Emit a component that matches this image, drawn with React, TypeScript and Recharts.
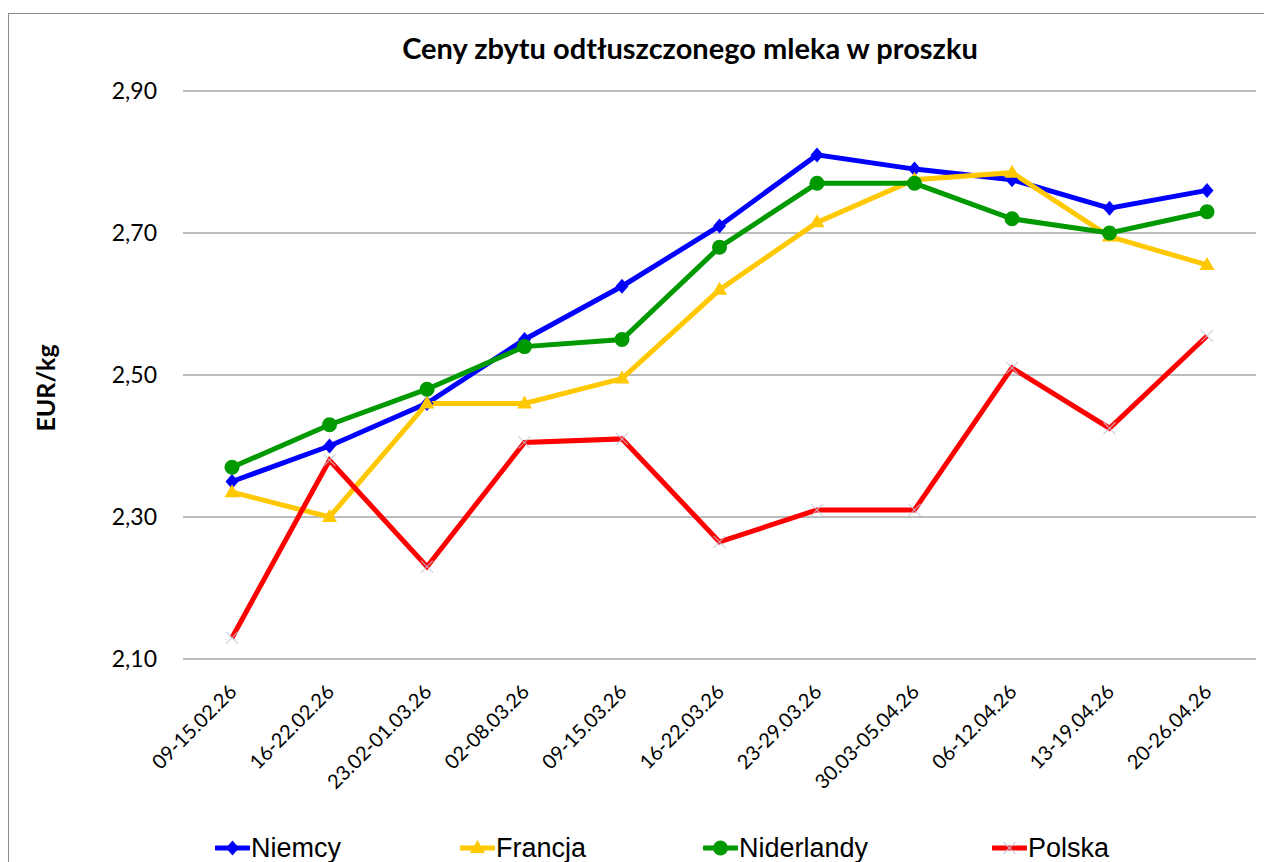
import { LineChart, Line, XAxis, YAxis, CartesianGrid } from 'recharts';

const WEEKS = [
  '09-15.02.26',
  '16-22.02.26',
  '23.02-01.03.26',
  '02-08.03.26',
  '09-15.03.26',
  '16-22.03.26',
  '23-29.03.26',
  '30.03-05.04.26',
  '06-12.04.26',
  '13-19.04.26',
  '20-26.04.26',
];

const NIEMCY = [2.35, 2.4, 2.46, 2.55, 2.625, 2.71, 2.81, 2.79, 2.775, 2.735, 2.76];
const FRANCJA = [2.335, 2.3, 2.46, 2.46, 2.495, 2.62, 2.715, 2.775, 2.785, 2.695, 2.655];
const NIDERLANDY = [2.37, 2.43, 2.48, 2.54, 2.55, 2.68, 2.77, 2.77, 2.72, 2.7, 2.73];
const POLSKA = [2.13, 2.38, 2.23, 2.405, 2.41, 2.265, 2.31, 2.31, 2.51, 2.425, 2.555];

const Y_TICKS = [2.1, 2.3, 2.5, 2.7, 2.9];

const SERIES = [
  { key: 'Niemcy', values: NIEMCY, color: '#0000FF', marker: 'diamond' },
  { key: 'Francja', values: FRANCJA, color: '#FFC800', marker: 'triangle' },
  { key: 'Niderlandy', values: NIDERLANDY, color: '#009A00', marker: 'circle' },
  { key: 'Polska', values: POLSKA, color: '#FF0000', marker: 'cross' },
];

// legend item left edges (icon start)
const LEGEND_X = [215, 460, 703, 992];

const rows = WEEKS.map((week, i) => {
  const row: Record<string, string | number> = { week };
  SERIES.forEach((s) => (row[s.key] = s.values[i]));
  return row;
});

function Marker({ cx, cy, type, color }: { cx: number; cy: number; type: string; color: string }) {
  if (cx == null || cy == null) return null;
  if (type === 'diamond') {
    return <polygon points={`${cx},${cy - 7.5} ${cx + 6.5},${cy} ${cx},${cy + 7.5} ${cx - 6.5},${cy}`} fill={color} />;
  }
  if (type === 'triangle') {
    return <polygon points={`${cx},${cy - 8} ${cx + 7.5},${cy + 5} ${cx - 7.5},${cy + 5}`} fill={color} />;
  }
  if (type === 'circle') {
    return <circle cx={cx} cy={cy} r={7.5} fill={color} />;
  }
  return (
    <g stroke="#C4C4DA" strokeWidth={1.2} opacity={0.8}>
      <line x1={cx - 6} y1={cy - 6} x2={cx + 6} y2={cy + 6} />
      <line x1={cx - 6} y1={cy + 6} x2={cx + 6} y2={cy - 6} />
    </g>
  );
}

function XTick(props: any) {
  const { x, y, payload } = props;
  const ex = x + 6;
  const ey = y + 34;
  return (
    <text
      x={ex}
      y={ey}
      transform={`rotate(-45, ${ex}, ${ey})`}
      textAnchor="end"
      fontFamily="Lato"
      fontSize={20}
      fill="#000"
    >
      {payload.value}
    </text>
  );
}

export default function App() {
  return (
    <div style={{ position: 'relative', width: 1264, height: 862, overflow: 'hidden', background: '#fff' }}>
      <style>{'body{margin:0;overflow:hidden}'}</style>
      <div
        style={{
          position: 'absolute',
          left: 8,
          top: 13,
          width: 1300,
          height: 900,
          border: '1px solid #8c8c8c',
        }}
      />
      <div
        style={{
          position: 'absolute',
          left: 690,
          top: 30,
          transform: 'translateX(-50%)',
          whiteSpace: 'nowrap',
          fontFamily: 'Lato',
          fontWeight: 700,
          fontSize: 29,
          color: '#000',
        }}
      >
        Ceny zbytu odtłuszczonego mleka w proszku
      </div>
      <div
        style={{
          position: 'absolute',
          left: 45,
          top: 388,
          transform: 'translate(-50%, -50%) rotate(-90deg)',
          whiteSpace: 'nowrap',
          fontFamily: 'Lato',
          fontWeight: 700,
          fontSize: 25,
          color: '#000',
        }}
      >
        EUR/kg
      </div>
      <div style={{ position: 'absolute', left: 0, top: 0 }}>
        <LineChart width={1264} height={862} data={rows} margin={{ top: 91, right: 8, left: 0, bottom: 0 }}>
          <CartesianGrid horizontal vertical={false} stroke="#A6A6A6" strokeWidth={1.5} />
          <XAxis
            dataKey="week"
            interval={0}
            height={203}
            axisLine={false}
            tickLine={false}
            tickSize={0}
            tickMargin={0}
            padding={{ left: 49, right: 49 }}
            tick={<XTick />}
          />
          <YAxis
            domain={[2.1, 2.9]}
            ticks={Y_TICKS}
            width={183}
            axisLine={false}
            tickLine={false}
            tickSize={0}
            tickMargin={26}
            tick={{ fontFamily: 'Lato', fontSize: 23, fill: '#000' }}
            tickFormatter={(v: number) => v.toFixed(2).replace('.', ',')}
          />
          {SERIES.map((s) => (
            <Line
              key={s.key}
              type="linear"
              dataKey={s.key}
              stroke={s.color}
              strokeWidth={5}
              isAnimationActive={false}
              dot={(p: any) => <Marker key={`${s.key}-${p.index}`} cx={p.cx} cy={p.cy} type={s.marker} color={s.color} />}
              activeDot={false}
            />
          ))}
        </LineChart>
      </div>
      {SERIES.map((s, i) => (
        <div
          key={s.key}
          style={{
            position: 'absolute',
            left: LEGEND_X[i],
            top: 831,
            height: 34,
            display: 'flex',
            alignItems: 'center',
            fontFamily: 'Liberation Sans',
            fontSize: 27,
            color: '#000',
            whiteSpace: 'nowrap',
          }}
        >
          <svg width={35} height={20} style={{ marginRight: 1 }}>
            <line x1={1} y1={10} x2={34} y2={10} stroke={s.color} strokeWidth={5} strokeLinecap="round" />
            <Marker cx={17.5} cy={10} type={s.marker} color={s.color} />
          </svg>
          {s.key}
        </div>
      ))}
    </div>
  );
}
